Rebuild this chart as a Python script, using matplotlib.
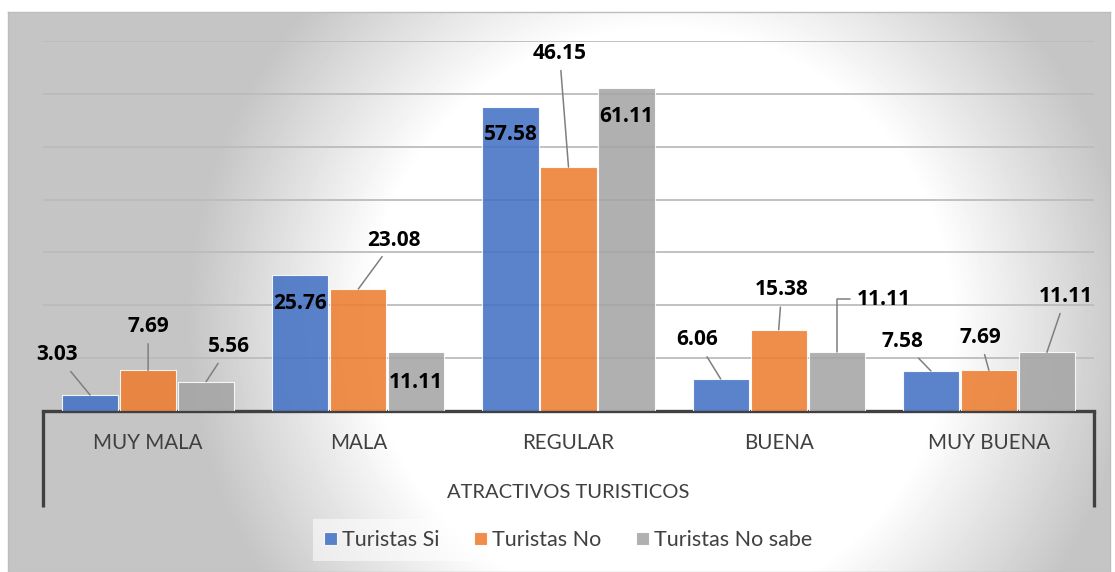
import matplotlib.pyplot as plt
import numpy as np

categories = ["MUY MALA", "MALA", "REGULAR", "BUENA", "MUY BUENA"]
series_names = ["Turistas Si", "Turistas No", "Turistas No sabe"]
turistas_si = [3.03, 25.76, 57.58, 6.06, 7.58]
turistas_no = [7.69, 23.08, 46.15, 15.38, 7.69]
turistas_no_sabe = [5.56, 11.11, 61.11, 11.11, 11.11]
axis_title = "ATRACTIVOS TURISTICOS"

colors = ["#4472C4", "#ED7D31", "#A5A5A5"]

# label offsets from the bar top (pixels); negative dy = label inside the bar
label_offsets = [
    [(-33, 40), (0, 44), (23, 35)],
    [(0, -29), (36, 49), (0, -30)],
    [(0, -28), (-9, 114), (0, -29)],
    [(-24, 39), (3, 40), (47, 53)],
    [(-28, 29), (-9, 33), (19, 56)],
]

W, H = 1115, 572
fig = plt.figure(figsize=(W / 100, H / 100), dpi=100)

# gradient background panel
bg = fig.add_axes([8 / W, 0, (1110 - 8) / W, (572 - 12) / H], zorder=-5)
yy, xx = np.mgrid[12:572, 8:1110]
r = np.sqrt((xx - 660.0) ** 2 + (yy - 320.0) ** 2)
shade = 255 - np.minimum(58, 0.32 * np.maximum(0, r - 290))
bg.imshow(shade, cmap="gray", vmin=0, vmax=255, aspect="auto", interpolation="bilinear")
bg.set_xticks([])
bg.set_yticks([])
for s in bg.spines.values():
    s.set_color("#bdbdbd")
    s.set_linewidth(1)

ax = fig.add_axes([43 / W, 1 - 411 / H, (1094 - 43) / W, (411 - 41) / H])
ax.set_facecolor("none")

lab_font = dict(fontsize=15, fontweight="bold", family="Open Sans", color="black", zorder=5)

x = np.arange(len(categories))
bw = 0.267
step = 0.276
all_series = [turistas_si, turistas_no, turistas_no_sabe]
for k, (vals, name, c) in enumerate(zip(all_series, series_names, colors)):
    xs = x + (k - 1) * step
    ax.bar(xs, vals, width=bw, color=c, alpha=0.88, edgecolor=(1, 1, 1, 0.5),
           linewidth=0.8, label=name, zorder=3)
    for i, (xi, v) in enumerate(zip(xs, vals)):
        dx, dy = label_offsets[i][k]
        if dy < 0:
            ax.annotate(f"{v:.2f}", xy=(xi, v), xytext=(dx, dy), textcoords="offset pixels",
                        ha="center", va="center", **lab_font)
        else:
            if i == 3 and k == 2:
                cs = "angle,angleA=0,angleB=90,rad=0"
                rel = (0, 0.5)
            else:
                cs = "arc3"
                rel = (0.5, 0.5)
            ax.annotate(f"{v:.2f}", xy=(xi, v), xytext=(dx, dy), textcoords="offset pixels",
                        ha="center", va="center", **lab_font,
                        arrowprops=dict(arrowstyle="-", color="#7f7f7f", lw=1.1,
                                        connectionstyle=cs, relpos=rel,
                                        shrinkA=3, shrinkB=0))

ax.set_xlim(-0.5, len(categories) - 0.5)
ax.set_ylim(0, 70)
ax.set_yticks(np.arange(10, 71, 10))
ax.yaxis.grid(True, color="#bcbcbc", linewidth=1.3, zorder=0)
ax.set_axisbelow(True)
ax.tick_params(axis="y", length=0, labelleft=False)
ax.set_xticks(x)
ax.set_xticklabels(categories, fontsize=14.8, family="Lato", color="#404040")
ax.tick_params(axis="x", length=0, pad=16)
for side in ["top", "left", "right"]:
    ax.spines[side].set_visible(False)
ax.spines["bottom"].set_color("#404040")
ax.spines["bottom"].set_linewidth(2.4)
ax.plot([0, 0], [0, -96 / 370], transform=ax.transAxes, color="#404040", lw=2.4,
        clip_on=False, solid_capstyle="butt")
ax.plot([1, 1], [0, -96 / 370], transform=ax.transAxes, color="#404040", lw=2.4,
        clip_on=False, solid_capstyle="butt")

fig.text(568 / W, 1 - 492 / H, axis_title, ha="center", va="center",
         fontsize=14.5, family="Lato", color="#404040")

leg = fig.legend(loc="center", bbox_to_anchor=(568 / W, 1 - 540 / H), ncol=3,
                 frameon=True, fancybox=False,
                 prop={"family": "Lato", "size": 15.5},
                 handlelength=0.6, handleheight=0.6, handletextpad=0.25,
                 columnspacing=1.6, borderpad=0.5)
leg.get_frame().set_facecolor("white")
leg.get_frame().set_alpha(0.55)
leg.get_frame().set_edgecolor("none")
for t in leg.get_texts():
    t.set_color("#404040")

fig.savefig("out.png", dpi=100)
